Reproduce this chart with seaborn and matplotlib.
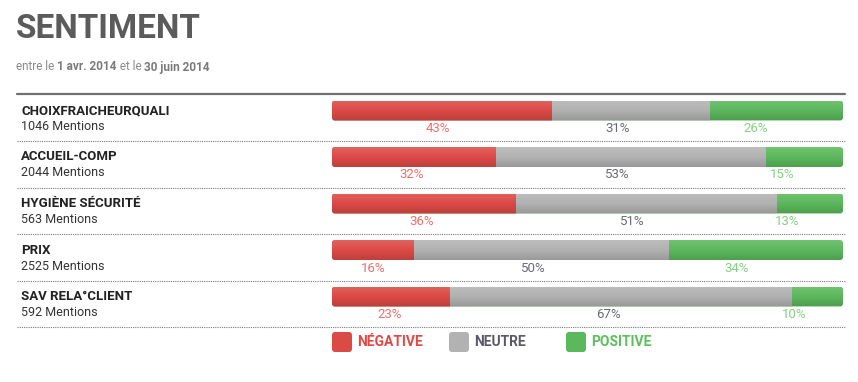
import numpy as np
import pandas as pd
import matplotlib
matplotlib.use("Agg")
import matplotlib.pyplot as plt
import seaborn as sns
from matplotlib.patches import FancyBboxPatch
from matplotlib.transforms import Affine2D

# ---------------- data ----------------
categories = ["CHOIXFRAICHEURQUALI", "ACCUEIL-COMP", "HYGIÈNE SÉCURITÉ", "PRIX", "SAV RELA°CLIENT"]
mentions = [1046, 2044, 563, 2525, 592]
negative = [43, 32, 36, 16, 23]
neutral = [31, 53, 51, 50, 67]
positive = [26, 15, 13, 34, 10]
series_names = ["NÉGATIVE", "NEUTRE", "POSITIVE"]
title = "SENTIMENT"
subtitle_parts = [("entre le ", "normal"), ("1 avr. 2014", "bold"), (" et le ", "normal"), ("30 juin 2014", "bold")]

# ---------------- style ----------------
W, H = 858, 382
sns.set_theme(style="white")
plt.rcParams["font.family"] = ["Roboto", "DejaVu Sans"]

bar_colors = {"NÉGATIVE": "#dc4a46", "NEUTRE": "#b2b2b2", "POSITIVE": "#5cb85c"}
label_colors = {"NÉGATIVE": "#ec6f6c", "NEUTRE": "#6a6a72", "POSITIVE": "#86cf82"}
legend_text_colors = {"NÉGATIVE": "#e04846", "NEUTRE": "#5a5a64", "POSITIVE": "#5cbf5a"}

fig = plt.figure(figsize=(W / 100, H / 100), dpi=100)
fig.patch.set_facecolor("white")
px = Affine2D().scale(1 / W, -1 / H).translate(0, 1) + fig.transFigure

BAR_L, BAR_R = 332, 843
ROW0, ROWSTEP = 110.5, 46.5
BAR_H_PX = 20

ax = fig.add_axes([BAR_L / W, 0, (BAR_R - BAR_L) / W, 1])

neg = np.array(negative)
neu = np.array(neutral)
pos = np.array(positive)
n = len(categories)
df = pd.DataFrame({
    "cat": categories * 3,
    "cum": np.concatenate([neg + neu + pos, neg + neu, neg]),
    "series": ["POSITIVE"] * n + ["NEUTRE"] * n + ["NÉGATIVE"] * n,
})

sns.barplot(data=df, y="cat", x="cum", hue="series",
            hue_order=["POSITIVE", "NEUTRE", "NÉGATIVE"], order=categories,
            dodge=False, palette=bar_colors, saturation=1, width=BAR_H_PX / ROWSTEP,
            linewidth=0, legend=False, ax=ax)

ax.set_xlim(0, 100)
ax.set_ylim((H - ROW0) / ROWSTEP, (0 - ROW0) / ROWSTEP)
ax.axis("off")

# rounded clipping + soft vertical gradient per row
px_per_x = (BAR_R - BAR_L) / 100
rx = 3 / px_per_x
m_aspect = px_per_x / ROWSTEP
h = BAR_H_PX / ROWSTEP
totals = neg + neu + pos
grad = np.zeros((40, 1, 4))
g = np.linspace(0, 1, 40)
grad[:, 0, :3] = np.where(g[:, None] < 0.5, 1.0, 0.0)
grad[:, 0, 3] = np.abs(g - 0.5) * 0.28
clips = []
for i in range(n):
    clip = FancyBboxPatch((0, i - h / 2), totals[i], h,
                          boxstyle=f"round,pad=0,rounding_size={rx}",
                          mutation_aspect=m_aspect, transform=ax.transData,
                          facecolor="none", edgecolor="none")
    clips.append(clip)
    im = ax.imshow(grad, extent=[0, totals[i], i + h / 2, i - h / 2], aspect="auto",
                   zorder=3, interpolation="bilinear")
    im.set_clip_path(clip)
for p in ax.patches:
    if p in clips:
        continue
    yc = p.get_y() + p.get_height() / 2
    row = int(round(yc))
    if 0 <= row < n:
        p.set_clip_path(clips[row])
ax.set_xlim(0, 100)
ax.set_ylim((H - ROW0) / ROWSTEP, (0 - ROW0) / ROWSTEP)

# percentage labels
for i in range(n):
    starts = [0, neg[i], neg[i] + neu[i]]
    vals = [neg[i], neu[i], pos[i]]
    for s, v, name in zip(starts, vals, series_names):
        xc = 0.4 + 0.949 * (s + v / 2)
        ax.text(xc, i + 18 / ROWSTEP, f"{v}%", ha="center", va="center",
                fontsize=9.5, color=label_colors[name], clip_on=False)

# left labels
for i, (c, m) in enumerate(zip(categories, mentions)):
    yc = ROW0 + i * ROWSTEP
    fig.text(21, yc, c, transform=px, ha="left", va="center",
             fontsize=9.5, fontweight="bold", color="#222222")
    fig.text(21, yc + 16, f"{m} Mentions", transform=px, ha="left", va="center",
             fontsize=9, color="#333333")
    # dotted separator
    ys = yc + 30.5
    fig.add_artist(plt.Line2D([17, 845], [ys, ys], transform=px, color="#7a7a7a",
                              linewidth=0.8, linestyle=(0, (1, 1))))

# top rule
fig.add_artist(plt.Line2D([17, 845], [94, 94], transform=px, color="#707070", linewidth=1.6))

# title and subtitle
fig.text(16, 29, title, transform=px, ha="left", va="center", fontsize=24,
         fontweight="bold", color="#5b5b5b")
renderer = fig.canvas.get_renderer()
x = 16
for txt, wt in subtitle_parts:
    t = fig.text(x, 67, txt, transform=px, ha="left", va="center", fontsize=8.5,
                 fontweight=wt, color="#8a8a8a" if wt == "normal" else "#7a7a7a")
    bb = t.get_window_extent(renderer)
    x += bb.width

# legend
legend_x = [332, 449, 566]
for lx, name in zip(legend_x, series_names):
    sq = FancyBboxPatch((lx, 332), 20, 20, boxstyle="round,pad=0,rounding_size=3",
                        transform=px, facecolor=bar_colors[name], edgecolor="none")
    fig.add_artist(sq)
    fig.text(lx + 25, 342.5, name, transform=px, ha="left", va="center",
             fontsize=10, fontweight="bold", color=legend_text_colors[name])

fig.savefig("out.png", dpi=100, facecolor="white")
